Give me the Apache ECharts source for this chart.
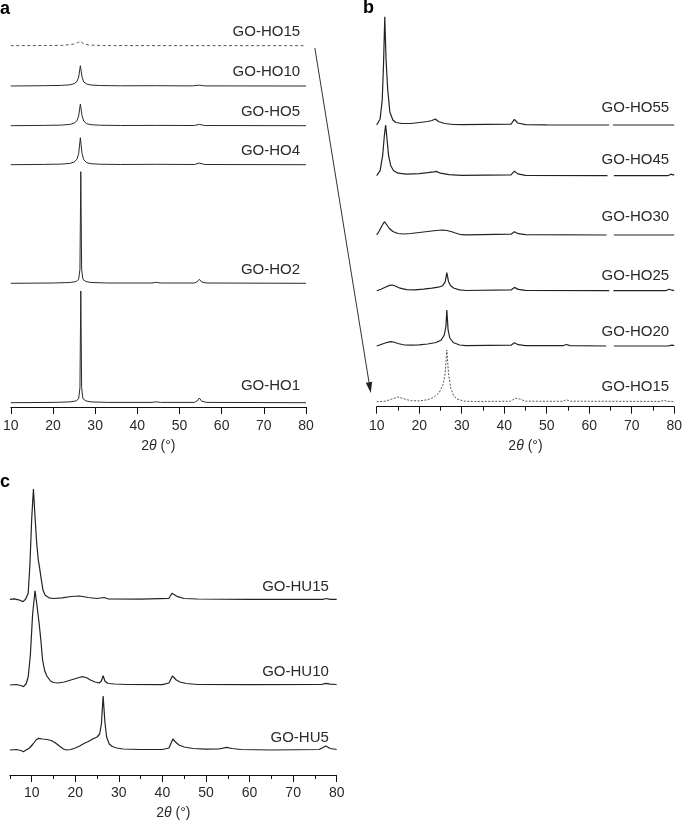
<!DOCTYPE html>
<html>
<head>
<meta charset="utf-8">
<script src="https://cdn.jsdelivr.net/npm/echarts@6/dist/echarts.min.js"></script>
<style>
html,body{margin:0;padding:0;background:#fff;}
#main{width:685px;height:823px;}
</style>
</head>
<body>
<div id="main"></div>
<script>
// ---------- DATA (2θ in degrees, intensity in arbitrary units above each trace's baseline) ----------
// Panel a
const namesA = ['GO-HO15', 'GO-HO10', 'GO-HO5', 'GO-HO4', 'GO-HO2', 'GO-HO1'];
const offsetsA = [361.3, 321, 281.3, 242.3, 123.7, 4.3];
const labelLiftA = [14, 14.3, 14, 14, 13.3, 17];
const HO15a = [[10,0],[22,0.3],[24.5,1.2],[25.8,2.8],[26.5,4.5],[27.2,2.2],[28.5,0.6],[32,0.1],[80,0]];
const HO10a = [[10,0],[18,0.3],[22,0.6],[24,1.2],[25,2.3],[25.7,4.5],[26.1,9],[26.5,20.3],[26.9,9],[27.3,4],[28,2],[29,1],[31,0.5],[36,0.2],[44.5,0.3],[53,0.1],[54.7,0.8],[56,0.1],[80,0]];
const HO5a = [[10,0],[18,0.3],[22,0.6],[24,1.3],[25,2.5],[25.7,5],[26.1,10],[26.5,21.7],[26.9,10],[27.3,4.5],[28,2],[29,1],[31,0.5],[36,0.2],[44.5,0.3],[53.5,0.2],[54.7,1.3],[56,0.2],[80,0]];
const HO4a = [[10,0],[18,0.3],[22,0.6],[24,1.3],[25,2.6],[25.7,5.5],[26.1,11],[26.5,27],[26.9,11],[27.3,5],[28,2],[29,1],[31,0.5],[36,0.2],[44.5,0.4],[53.5,0.2],[54.7,1.6],[56,0.2],[80,0]];
const HO2a = [[10,0],[20,0.3],[24,0.8],[25.5,1.8],[26.1,4],[26.4,14],[26.6,111.6],[26.8,14],[27.1,4],[27.8,1.8],[29,0.8],[33,0.3],[43.5,0.3],[44.5,1],[45.5,0.3],[53.5,0.3],[54.2,1.5],[54.7,4],[55.3,1.2],[56.5,0.3],[80,0]];
const HO1a = [[10,0],[20,0.3],[24,0.8],[25.5,1.8],[26.1,4],[26.4,15],[26.6,111.7],[26.8,15],[27.1,4],[27.8,1.8],[29,0.8],[33,0.3],[43.5,0.3],[44.5,0.9],[45.5,0.3],[53.5,0.3],[54.2,1.8],[54.7,4.7],[55.3,1.4],[56.5,0.3],[80,0]];

// Panel b
const namesB = ['GO-HO55', 'GO-HO45', 'GO-HO30', 'GO-HO25', 'GO-HO20', 'GO-HO15'];
const offsetsB = [281.7, 231, 171.7, 116, 60.7, 5];
const labelLiftB = [17, 15.7, 18, 14.7, 14.3, 15];
const HO55b = [[10,0],[10.8,6],[11.3,25],[11.6,60],[11.9,108.3],[12.2,65],[12.6,35],[13.1,13],[13.8,5],[14.5,2.5],[16,1.5],[18,1.5],[20,2.5],[22,3.5],[23,4.5],[23.8,6],[24.5,3.5],[26,1.5],[28,0.5],[30,0.3],[41.6,0.8],[42.4,5.7],[43.2,2],[45,0.4],[50,0.2],[64.7,0],[64.9,'-'],[65.6,0],[80,0]];
const HO45b = [[10,0],[10.8,5],[11.4,20],[11.8,40],[12.1,50.7],[12.4,38],[12.8,20],[13.3,10],[14,5],[15,2.5],[17,1.5],[20,2],[22,3],[23.5,3.8],[24,4.3],[25,2.5],[27,1],[30,0.3],[41.6,0.8],[42.4,4.5],[43.2,1.8],[45,0.3],[64.3,0],[64.5,'-'],[65.8,0],[78.5,0],[79.2,1.5],[80,0.5]];
const HO30b = [[10,0],[10.6,4],[11.2,9],[11.8,13.3],[12.4,10],[13,6.5],[13.8,3.5],[15,1.5],[16.5,1],[18,1.5],[20,2.5],[22,3.5],[24,4.5],[25.5,5],[26.5,4.5],[27.5,3.5],[28.5,2],[29.5,0.7],[31,0.2],[41.6,0.8],[42.4,3.3],[43.3,1.3],[45,0.3],[64.1,0],[64.3,'-'],[65.8,0],[80,0]];
const HO25b = [[10,0],[11,1.5],[12,3.5],[13,5.3],[13.7,5.7],[14.5,4.5],[15.5,2.5],[17,1],[19,0.8],[21,1.5],[23,2.5],[24.5,3.5],[25.5,5],[26.1,8.5],[26.5,18],[26.9,9],[27.4,5],[28.2,2.5],[29.5,0.8],[31,0.2],[41.6,0.8],[42.4,3.3],[43.3,1.3],[45,0.3],[64.7,0],[64.9,'-'],[65.7,0],[78,0],[78.8,1.5],[79.5,0.5],[80,0]];
const HO20b = [[10,0],[11,1.5],[12,3],[13.2,4.3],[14,4],[15,2.5],[16.5,1],[18,0.8],[20,1.2],[22,2],[24,3.5],[25.2,6],[25.9,11],[26.3,20],[26.5,36],[26.8,16],[27.2,8],[28,3.5],[29.5,1],[31,0.3],[41.6,0.8],[42.4,3.3],[43.3,1.3],[45,0.3],[53.8,0.3],[54.6,1.5],[55.5,0.4],[64,0],[64.2,'-'],[65.8,0],[78.5,0],[79.5,0.8],[80,0.5]];
const HO15b = [[10,0],[12,0.5],[13.5,2.5],[15,4.7],[16.3,3],[18,1],[20,0.8],[22,2],[23.5,4.5],[24.7,9],[25.6,17],[26.1,28],[26.5,51.7],[26.9,28],[27.4,14],[28.1,6],[29,2.5],[30.5,0.6],[33,0.2],[41.5,0.5],[42.6,3.5],[43.8,2.5],[45,0.5],[53.8,0.4],[54.6,2],[55.5,0.5],[76.8,0.3],[77.6,1.5],[78.4,0.3],[80,0]];

// Panel c
const namesC = ['GO-HU15', 'GO-HU10', 'GO-HU5'];
const offsetsC = [175.7, 90, 25];
const labelLiftC = [12.6, 12.7, 11.7];
const HU15c = [[5,0],[6,0.5],[7,-0.5],[8,-2.3],[8.6,0],[9.2,6],[9.6,35],[10,80],[10.4,110.3],[10.8,80],[11.15,56],[11.5,40],[11.8,32],[12.2,20],[12.6,9],[13.1,4],[14,1.5],[15,0.8],[17,1.5],[19,2.8],[21,3.3],[23,1.8],[25,0.8],[26.6,1.8],[27.5,0.5],[35,0.2],[41.5,1],[42.2,6],[42.5,7.7],[43.3,3],[45,0.8],[48,0.3],[60,0],[77,0],[77.6,0.8],[78.5,0],[80,0]];
const HU10c = [[5,0],[6.5,0.5],[7.5,-0.5],[8.1,-1.7],[8.7,1],[9.2,8],[9.7,30],[10.2,70],[10.76,94.3],[11.2,80],[11.7,62],[12.1,45],[12.5,25],[13,14],[13.5,9],[14.3,4],[15,2.5],[16,2],[17.5,3],[19,5],[20.5,7],[21.5,8.3],[22.5,7.5],[23.5,5],[24.5,3],[25.5,2],[26,4],[26.4,9.3],[26.8,4],[27.5,1.5],[29,1],[32,0.5],[40,0.3],[41.5,2],[42.3,9],[42.5,10],[43.2,5],[44,3],[45.5,1.5],[48,0.5],[60,0.3],[76.5,0.5],[77.5,1.7],[78.5,0.8],[80,0.5]];
const HU5c = [[5,0],[6.5,0.5],[7.5,-0.5],[8.1,-1.7],[8.7,0],[9.5,2],[10.3,6],[11,10],[11.6,11.7],[12.5,11],[13.5,10.5],[14.5,9.5],[15.4,7.3],[16.5,3.5],[17.3,1],[18,0],[19,0.5],[20,2],[21,4],[22,6.5],[23,8.5],[24,11],[25,13],[25.6,16],[26,26],[26.4,54],[26.8,28],[27.2,13],[27.8,6],[28.5,3.5],[29.5,2],[31,1],[35,0.5],[40,0.5],[41.5,2],[42.1,8],[42.4,11],[43,8],[43.8,5],[45,3],[47,1.5],[50,0.8],[53,1],[54.7,2.7],[56,1.5],[58,0.5],[65,0],[76,0.5],[77.5,4],[78.5,1.5],[80,0.5]];

const ticksAB = {min: 10, max: 80, interval: 10};
const ticksC = {min: 5, max: 80, interval: 5};
const majorTicksC = [10, 20, 30, 40, 50, 60, 70, 80];

// ---------- CHART ----------
const FONT = "'Liberation Sans', Arial, Helvetica, sans-serif";
const INK = '#2a2a2a';
const chart = echarts.init(document.getElementById('main'), null, {renderer: 'canvas'});

const grids = [
  {left: 7.3, top: 10, width: 298.7, height: 397},
  {left: 376.7, top: 10, width: 299.3, height: 396.7},
  {left: 9.9, top: 480, width: 326.8, height: 295}
];

const nameStyle = {fontFamily: FONT, fontSize: 14, color: INK,
  rich: {i: {fontFamily: FONT, fontSize: 14, fontStyle: 'italic', color: INK}}};
const tickLine = {color: '#111', width: 1};

const xAxes = [
  { // panel a
    type: 'value', gridIndex: 0, min: ticksAB.min, max: ticksAB.max, interval: ticksAB.interval,
    name: '2{i|θ} (°)', nameLocation: 'middle', nameGap: 32, nameTextStyle: nameStyle,
    axisLine: {show: true, onZero: false, lineStyle: tickLine},
    axisTick: {show: true, length: 7, lineStyle: tickLine},
    axisLabel: {fontFamily: FONT, fontSize: 14, color: INK, margin: 12},
    splitLine: {show: false}
  },
  { // panel b
    type: 'value', gridIndex: 1, min: ticksAB.min, max: ticksAB.max, interval: ticksAB.interval,
    name: '2{i|θ} (°)', nameLocation: 'middle', nameGap: 32, nameTextStyle: nameStyle,
    axisLine: {show: true, onZero: false, lineStyle: tickLine},
    axisTick: {show: true, length: 7, lineStyle: tickLine},
    minorTick: {show: true, splitNumber: 2, length: 4, lineStyle: tickLine},
    axisLabel: {fontFamily: FONT, fontSize: 14, color: INK, margin: 12},
    splitLine: {show: false}, minorSplitLine: {show: false}
  },
  { // panel c – short ticks every 5°, labels every 10°
    type: 'value', gridIndex: 2, position: 'bottom', min: ticksC.min, max: ticksC.max, interval: ticksC.interval,
    name: '2{i|θ} (°)', nameLocation: 'middle', nameGap: 31, nameTextStyle: nameStyle,
    axisLine: {show: true, onZero: false, lineStyle: tickLine},
    axisTick: {show: true, length: 4, lineStyle: tickLine},
    axisLabel: {fontFamily: FONT, fontSize: 14, color: INK, margin: 11,
      formatter: v => (v % 10 === 0 ? String(v) : '')},
    splitLine: {show: false}
  },
  { // panel c – long ticks at every 10°
    type: 'value', gridIndex: 2, position: 'bottom', offset: 0, min: ticksC.min, max: ticksC.max, interval: ticksC.interval,
    axisLine: {show: false, onZero: false},
    axisTick: {show: true, length: 7, lineStyle: tickLine, customValues: majorTicksC},
    axisLabel: {show: false},
    splitLine: {show: false}
  }
];

function yAxisCfg(gi, h) {
  return {type: 'value', gridIndex: gi, min: 0, max: h, show: false, splitLine: {show: false}};
}

function mk(gi, pts, off, style) {
  return {
    type: 'line', xAxisIndex: gi, yAxisIndex: gi, showSymbol: false, silent: true,
    connectNulls: false, animation: false,
    data: pts.map(p => [p[0], p[1] === '-' ? '-' : p[1] + off]),
    lineStyle: Object.assign({color: INK, width: 1}, style || {})
  };
}

const dashA = {color: '#555', width: 1, type: [3, 2.5]};
const dashB = {color: '#555', width: 1, type: [2, 1.5]};
const solidB = {color: '#222', width: 1.2};

const seriesA = [HO15a, HO10a, HO5a, HO4a, HO2a, HO1a].map((d, i) => mk(0, d, offsetsA[i], i === 0 ? dashA : null));
const seriesB = [HO55b, HO45b, HO30b, HO25b, HO20b, HO15b].map((d, i) => mk(1, d, offsetsB[i], i === 5 ? dashB : solidB));
const seriesC = [HU15c, HU10c, HU5c].map((d, i) => mk(2, d, offsetsC[i], solidB));

chart.setOption({
  animation: false,
  backgroundColor: '#fff',
  grid: grids,
  xAxis: xAxes,
  yAxis: [yAxisCfg(0, 397), yAxisCfg(1, 396.7), yAxisCfg(2, 295)],
  series: seriesA.concat(seriesB, seriesC)
});

// ---------- Labels & annotations ----------
const gfx = [];
function addLabels(gi, names, offs, lifts, xPos) {
  names.forEach((n, i) => {
    const p = chart.convertToPixel({gridIndex: gi}, [xPos, offs[i] + lifts[i]]);
    gfx.push({type: 'text', x: p[0], y: p[1], silent: true,
      style: {text: n, font: "15px " + FONT, fill: INK, textAlign: 'right', textVerticalAlign: 'middle'}});
  });
}
addLabels(0, namesA, offsetsA, labelLiftA, 78.6);
addLabels(1, namesB, offsetsB, labelLiftB, 78.8);
addLabels(2, namesC, offsetsC, labelLiftC, 78.2);

// panel letters
[['a', 0, 18], ['b', 363, 17], ['c', 0, 491]].forEach(([t, x, y]) => {
  gfx.push({type: 'text', x: x, y: y, silent: true,
    style: {text: t, font: "bold 18px " + FONT, fill: '#000', textAlign: 'left', textVerticalAlign: 'bottom'}});
});

// arrow linking GO-HO15 of panel a to GO-HO15 of panel b
const s = chart.convertToPixel({gridIndex: 0}, [82.1, 359]);
const e = chart.convertToPixel({gridIndex: 1}, [8.6, 13.7]);
const dx = e[0] - s[0], dy = e[1] - s[1], L = Math.hypot(dx, dy);
const ux = dx / L, uy = dy / L, hl = 11, hw = 3.2;
const bx = e[0] - ux * hl, by = e[1] - uy * hl;
gfx.push({type: 'line', silent: true,
  shape: {x1: s[0], y1: s[1], x2: bx, y2: by}, style: {stroke: '#333', lineWidth: 1}});
gfx.push({type: 'polygon', silent: true,
  shape: {points: [[e[0], e[1]], [bx - uy * hw, by + ux * hw], [bx + uy * hw, by - ux * hw]]},
  style: {fill: '#222'}});

chart.setOption({graphic: gfx});
</script>
</body>
</html>
